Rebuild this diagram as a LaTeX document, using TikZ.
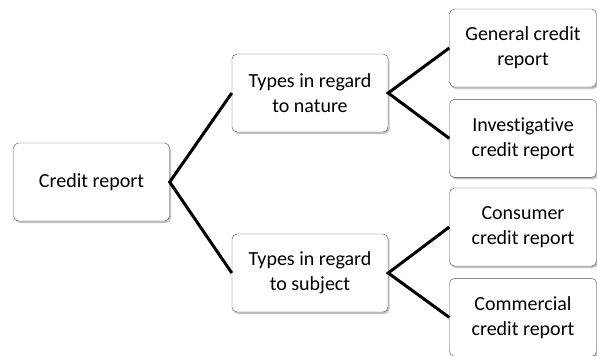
\documentclass[tikz,border=0pt]{standalone}
\usepackage{fontspec}
\setmainfont{Carlito}[Ligatures=NoCommon]
\usetikzlibrary{positioning,shadows}

\begin{document}
\begin{tikzpicture}[x=1pt,y=-1pt,
  rbox/.style={draw=black!70,thin,fill=white,rounded corners=5pt,
    minimum width=#1,minimum height=78pt,align=center,inner sep=2pt,
    font=\fontsize{20}{25}\selectfont,
    drop shadow={shadow xshift=1.5pt,shadow yshift=-2pt,opacity=.4,fill=black!60}},
  rbox/.default=156pt,
  link/.style={line width=3pt,black}]

 \useasboundingbox (0,0) rectangle (597,356);

 \node[rbox] (report) at (91.5,182) {Credit report};
 \node[rbox] (nature) at (310,93) {Types in regard \\ to nature};
 \node[rbox] (subject) at (310,273) {Types in regard \\ to subject};
 \node[rbox=147pt] (general) at (523,48) {General credit \\ report};
 \node[rbox=147pt, below=12pt of general] (invest) {Investigative \\ credit report};
 \node[rbox=147pt] (consumer) at (523,227) {Consumer \\ credit report};
 \node[rbox=147pt, below=12pt of consumer] (commerc) {Commercial \\ credit report};

 \draw[link] (nature.west) -- (report.east) -- (subject.west);
 \draw[link] (general.west) -- (nature.east) -- (invest.west);
 \draw[link] (consumer.west) -- (subject.east) -- (commerc.west);

\end{tikzpicture}
\end{document}
